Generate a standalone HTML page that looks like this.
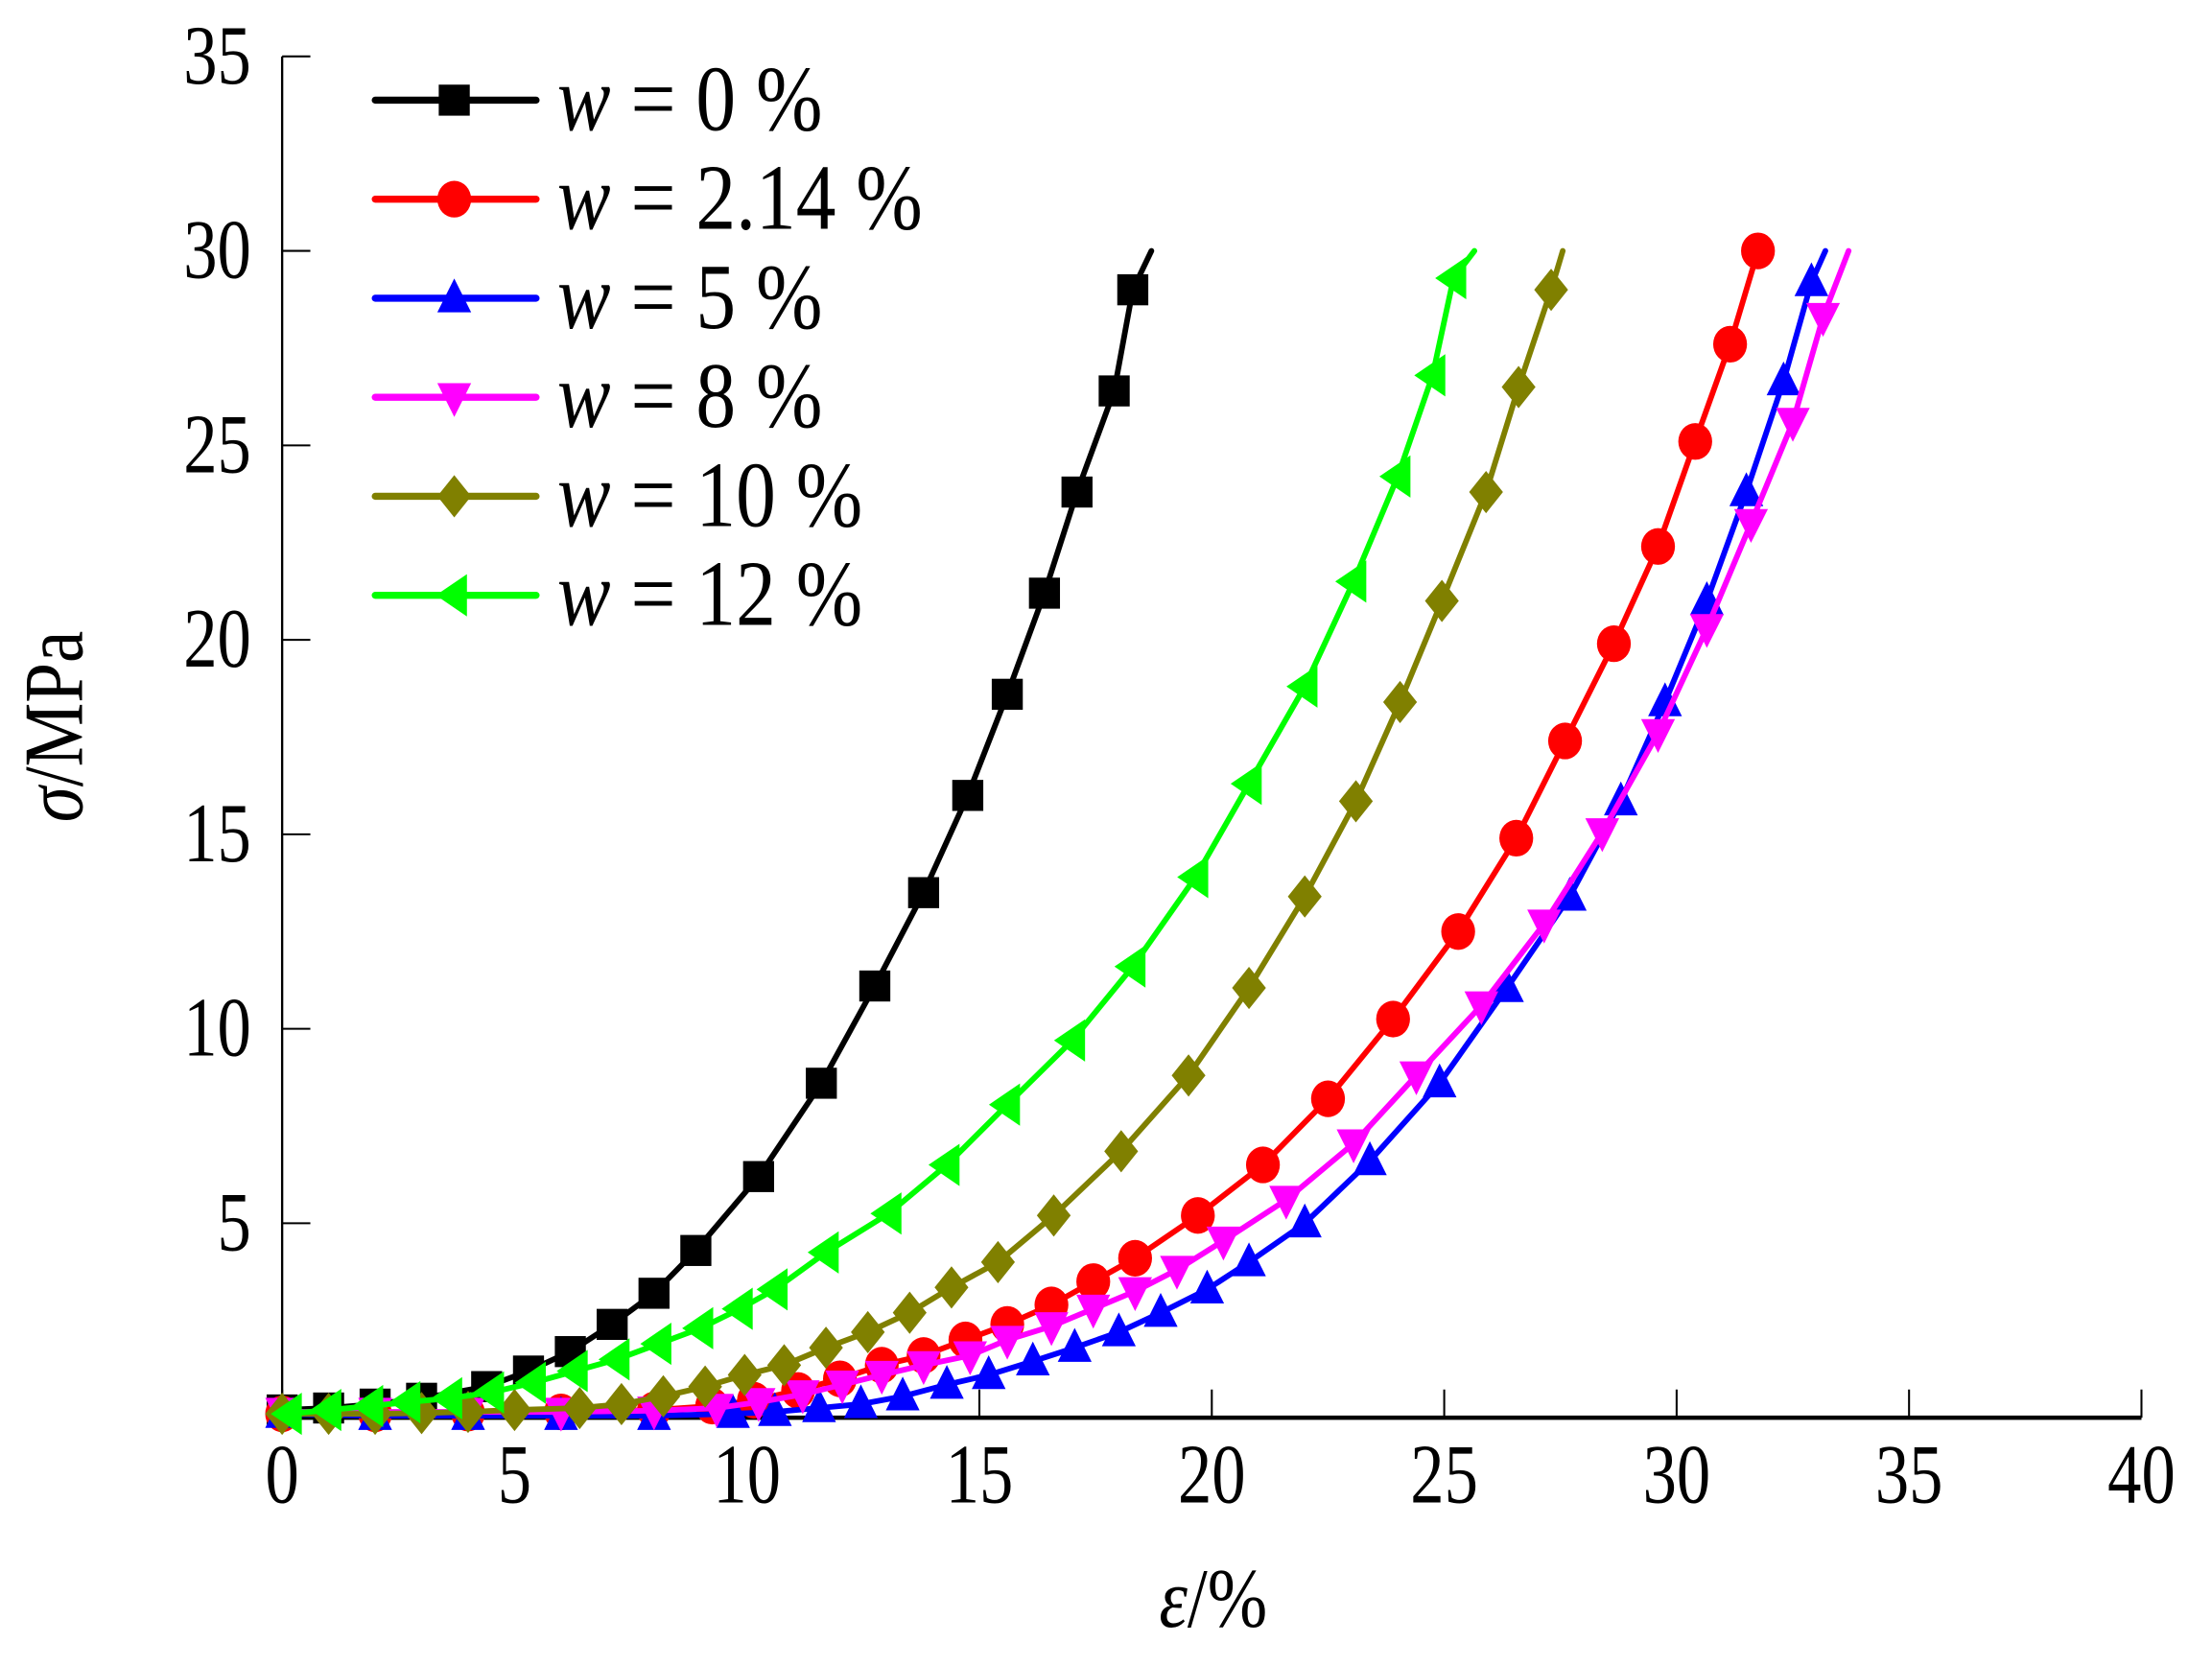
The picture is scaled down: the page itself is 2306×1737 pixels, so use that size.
<!DOCTYPE html>
<html><head><meta charset="utf-8"><style>
html,body{margin:0;padding:0;background:#fff;}
svg{display:block;}
text{font-family:"Liberation Serif","DejaVu Serif",serif;fill:#000;}
</style></head><body>
<svg id="chart" width="2306" height="1737" viewBox="0 0 1568 1181" preserveAspectRatio="none" xmlns="http://www.w3.org/2000/svg">
<g id="axes"></g>
<g id="series"></g>
<g id="legend"></g>
<text transform="translate(860,1153) scale(0.85,1)" font-size="60" text-anchor="middle"><tspan font-style="italic">ε</tspan>/%</text>
<text transform="translate(58,515) rotate(-90) scale(0.85,1)" font-size="60" text-anchor="middle"><tspan font-style="italic">σ</tspan>/MPa</text>
</svg>
<script>
const xTicks=[0,5,10,15,20,25,30,35,40];
const yTicks=[5,10,15,20,25,30,35];
const seriesNames=["w = 0 %","w = 2.14 %","w = 5 %","w = 8 %","w = 10 %","w = 12 %"];
const strain0=[0,1.0,2.0,3.0,4.4,5.3,6.2,7.1,8.0,8.9,10.25,11.6,12.75,13.8,14.75,15.6,16.4,17.1,17.9,18.3,18.7];
const stress0=[0.2,0.25,0.35,0.5,0.8,1.2,1.7,2.4,3.2,4.3,6.2,8.6,11.1,13.5,16.0,18.6,21.2,23.8,26.4,29.0,30];
const strain1=[0,2,4,6,8,9.25,10.15,11.1,12.0,12.9,13.8,14.7,15.6,16.55,17.45,18.35,19.7,21.1,22.5,23.9,25.3,26.55,27.6,28.65,29.6,30.4,31.15,31.75];
const stress1=[0.1,0.1,0.12,0.15,0.2,0.3,0.45,0.7,1.0,1.35,1.6,2.0,2.4,2.9,3.5,4.1,5.2,6.5,8.2,10.25,12.5,14.9,17.4,19.9,22.4,25.1,27.6,30];
const strain2=[0,2,4,6,8,9.7,10.6,11.55,12.45,13.35,14.3,15.2,16.15,17.05,18.0,18.9,19.9,20.8,22.0,23.4,24.9,26.35,27.7,28.8,29.75,30.65,31.5,32.3,32.9,33.2];
const stress2=[0.1,0.05,0.05,0.05,0.05,0.1,0.15,0.25,0.35,0.55,0.85,1.1,1.45,1.8,2.2,2.7,3.3,4.0,5.0,6.6,8.6,11.05,13.4,15.85,18.4,21.0,23.8,26.65,29.2,30];
const strain3=[0,2,4,6,8,9.35,10.25,11.2,12.05,12.9,13.8,14.8,15.6,16.55,17.45,18.35,19.25,20.25,21.6,23.05,24.4,25.8,27.15,28.4,29.6,30.65,31.6,32.5,33.15,33.7];
const stress3=[0.15,0.15,0.15,0.15,0.18,0.25,0.4,0.6,0.85,1.1,1.35,1.6,2.0,2.35,2.8,3.25,3.8,4.55,5.6,7.05,8.8,10.6,12.7,15.05,17.6,20.3,23.0,25.6,28.3,30];
const strain4=[0,1.0,2.0,3.0,4.0,5.0,6.4,7.3,8.2,9.1,9.95,10.8,11.7,12.6,13.5,14.4,15.4,16.6,18.05,19.5,20.8,22.0,23.1,24.05,24.95,25.9,26.6,27.3,27.55];
const stress4=[0.1,0.1,0.1,0.12,0.15,0.2,0.25,0.35,0.55,0.8,1.1,1.35,1.8,2.2,2.7,3.35,4.0,5.2,6.85,8.8,11.05,13.4,15.85,18.4,21.0,23.8,26.5,29.0,30];
const strain5=[0.15,1.0,1.9,2.7,3.6,4.5,5.4,6.3,7.2,8.1,9.0,9.85,10.6,11.7,13.05,14.3,15.6,17.0,18.3,19.65,20.8,22.0,23.05,24.0,24.75,25.2,25.65];
const stress5=[0.1,0.2,0.3,0.4,0.5,0.65,0.9,1.2,1.5,1.9,2.3,2.8,3.3,4.25,5.25,6.5,8.05,9.7,11.6,13.9,16.3,18.8,21.5,24.2,26.8,29.3,30];
const allStrain=[strain0,strain1,strain2,strain3,strain4,strain5];
const allStress=[stress0,stress1,stress2,stress3,stress4,stress5];
const colors=["#000000","#ff0000","#0000ff","#ff00ff","#808000","#00ff00"];
const markers=["square","circle","triangle-up","triangle-down","diamond","triangle-left"];
const NS="http://www.w3.org/2000/svg";
const X0=200,X1=1518,Y0=1005,Y1=40;
const xs=v=>X0+(X1-X0)*v/40;
const ys=v=>Y0-(Y0-Y1)*v/35;
function mk(tag,attrs,parent){const e=document.createElementNS(NS,tag);for(const k in attrs)e.setAttribute(k,attrs[k]);parent.appendChild(e);return e;}
const axes=document.getElementById('axes');
let yl=mk('line',{x1:X0,y1:Y1,x2:X0,y2:Y0,stroke:'#000','stroke-width':1.6},axes);


let xl=mk('line',{x1:X0,y1:Y0,x2:X1,y2:Y0,stroke:'#000','stroke-width':3},axes);


xTicks.forEach(t=>{
  const l=mk('line',{x1:xs(t),y1:Y0,x2:xs(t),y2:Y0-20,stroke:'#000','stroke-width':1.4},axes);
  
  
  const tx=mk('text',{transform:`translate(${xs(t)},1065) scale(0.8,1)`,'font-size':60,'text-anchor':'middle'},axes);
  tx.textContent=t;
  
  
});
yTicks.forEach(t=>{
  const l=mk('line',{x1:X0,y1:ys(t),x2:X0+20,y2:ys(t),stroke:'#000','stroke-width':1.4},axes);
  
  
  const tx=mk('text',{transform:`translate(178,${ys(t)+19}) scale(0.8,1)`,'font-size':60,'text-anchor':'end'},axes);
  tx.textContent=t;
  
  
});
function marker(type,x,y,c,parent){
  const s=11;let e;
  if(type==='square')e=mk('rect',{x:x-s,y:y-s,width:2*s,height:2*s,fill:c},parent);
  else if(type==='circle')e=mk('ellipse',{cx:x,cy:y,rx:12,ry:13,fill:c},parent);
  else if(type==='triangle-up')e=mk('polygon',{points:`${x},${y-14} ${x-12},${y+10} ${x+12},${y+10}`,fill:c},parent);
  else if(type==='triangle-down')e=mk('polygon',{points:`${x},${y+14} ${x-12},${y-10} ${x+12},${y-10}`,fill:c},parent);
  else if(type==='diamond')e=mk('polygon',{points:`${x},${y-15} ${x+12},${y} ${x},${y+15} ${x-12},${y}`,fill:c},parent);
  else e=mk('polygon',{points:`${x-13},${y} ${x+9},${y-15} ${x+9},${y+15}`,fill:c},parent);
  return e;
}
const sg=document.getElementById('series');
allStrain.forEach((sx,i)=>{
  const g=mk('g',{},sg);
  
  
  const sy=allStress[i];
  const pts=sx.map((v,j)=>xs(v)+','+ys(sy[j])).join(' ');
  const pl=mk('polyline',{points:pts,fill:'none',stroke:colors[i],'stroke-width':4,'stroke-linejoin':'round','stroke-linecap':'round'},g);
  
  
  const n=(i===1)?sx.length:sx.length-1;
  for(let j=0;j<n;j++){
    const m=marker(markers[i],xs(sx[j]),ys(sy[j]),colors[i],g);
    
    
  }
});
const lg=document.getElementById('legend');
seriesNames.forEach((nm,i)=>{
  const y=71+i*70.2;
  const g=mk('g',{},lg);
  
  
  mk('line',{x1:266,y1:y,x2:380,y2:y,stroke:colors[i],'stroke-width':5,'stroke-linecap':'round'},g);
  marker(markers[i],322,y,colors[i],g);
  const t=mk('text',{transform:`translate(395,${y+21}) scale(0.86,1)`,'font-size':66},g);
  const parts=nm.split(' = ');
  const a=mk('tspan',{'font-style':'italic'},t);a.textContent=parts[0];
  const b=mk('tspan',{},t);b.textContent=' = '+parts[1];
  
  
});
</script>
</body></html>
